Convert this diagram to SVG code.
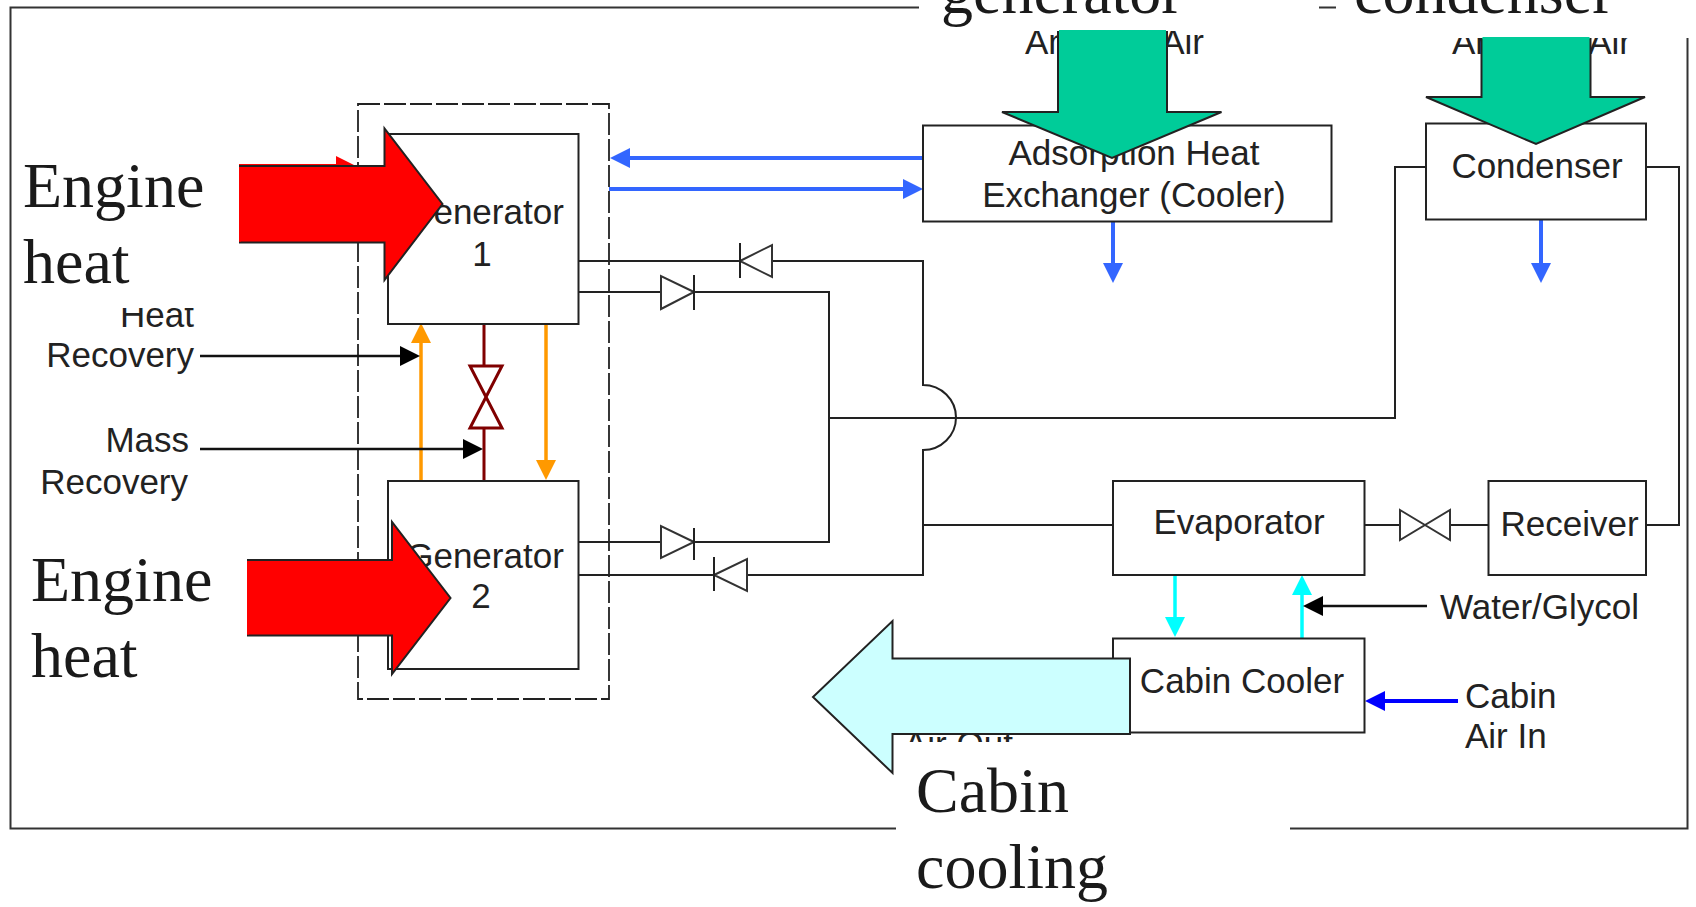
<svg xmlns="http://www.w3.org/2000/svg" width="1696" height="907" viewBox="0 0 1696 907">
<style>
.box{fill:#fff;stroke:#222;stroke-width:2}
.sm{font-family:"Liberation Sans",Arial,sans-serif;font-size:35px;fill:#222}
.big{font-family:"Liberation Serif","Times New Roman",serif;font-size:64px;fill:#1a1a1a}
.ln{fill:none;stroke:#222;stroke-width:2}
.sym{fill:#fff;stroke:#333;stroke-width:2}
.mask{fill:#fff;stroke:none}
.fat{stroke:#222;stroke-width:2;stroke-linejoin:miter}
.b{fill:none;stroke:#3366ff;stroke-width:4;marker-end:url(#mb)}
.o{fill:none;stroke:#ff9900;stroke-width:3.5;marker-end:url(#mo)}
.c{fill:none;stroke:#00ffff;stroke-width:3.5;marker-end:url(#mc)}
.k{fill:none;stroke:#111;stroke-width:2.5;marker-end:url(#mk)}
</style>
<defs>
<marker id="mb" markerUnits="userSpaceOnUse" markerWidth="22" markerHeight="22" refX="10" refY="10" orient="auto"><path d="M0 0L20 10L0 20Z" fill="#3366ff"/></marker>
<marker id="mo" markerUnits="userSpaceOnUse" markerWidth="22" markerHeight="22" refX="10" refY="10" orient="auto"><path d="M0 0L20 10L0 20Z" fill="#ff9900"/></marker>
<marker id="mc" markerUnits="userSpaceOnUse" markerWidth="22" markerHeight="22" refX="10" refY="10" orient="auto"><path d="M0 0L20 10L0 20Z" fill="#00ffff"/></marker>
<marker id="mk" markerUnits="userSpaceOnUse" markerWidth="22" markerHeight="22" refX="10" refY="10" orient="auto"><path d="M0 0L20 10L0 20Z" fill="#000"/></marker>
<marker id="md" markerUnits="userSpaceOnUse" markerWidth="22" markerHeight="22" refX="10" refY="10" orient="auto"><path d="M0 0L20 10L0 20Z" fill="#0000ff"/></marker>
</defs>
<rect width="1696" height="907" fill="#fff"/>
<rect id="frame" x="10.5" y="7.5" width="1677" height="821" fill="none" stroke="#333" stroke-width="2"/>
<rect id="generator-enclosure" x="358" y="104" width="251" height="595" fill="none" stroke="#222" stroke-width="1.8" stroke-dasharray="22 4"/>

<g id="connectors">
<path class="ln" d="M579 261H923V385A33 32.500 0 0 1 923 450V575H579"/>
<path class="ln" d="M579 292H829V542H579"/>
<path class="ln" d="M829 418H1395V167H1429"/>
<path class="ln" d="M1646 167H1679V525H1646"/>
<path class="ln" d="M923 525H1113M1365 525H1489"/>
<path d="M484 324V366M484 428V481" fill="none" stroke="#800000" stroke-width="3"/>
<path class="o" d="M421 481V333"/>
<path class="o" d="M546 324V470"/>
<path class="k" d="M200 356H410"/>
<path class="k" d="M200 449H473"/>
<path class="b" d="M923 158H620"/>
<path class="b" d="M609 189H913"/>
<path class="b" d="M1113 222V273"/>
<path class="b" d="M1541 220V273"/>
<path class="c" d="M1175 575V627"/>
<path class="c" d="M1302 640V585"/>
<path class="k" d="M1427 606H1313"/>
<path d="M1458 701H1375" fill="none" stroke="#0000ff" stroke-width="4" marker-end="url(#md)"/>
</g>

<g id="check-valves">
<path class="sym" d="M740 261L772 245V277Z"/><path class="ln" d="M740 243V278"/>
<path class="sym" d="M694 292L661 276V309Z"/><path class="ln" d="M694 275V310"/>
<path class="sym" d="M694 542L661 526V558Z"/><path class="ln" d="M694 528V560"/>
<path class="sym" d="M714 575L747 559V591Z"/><path class="ln" d="M714 557V591"/>
</g>
<g id="expansion-valve"><path class="sym" d="M1400 510L1450 540V510L1400 540Z"/></g>
<g id="mass-valve"><path d="M470 366H502L470 428H502Z" fill="#fff" stroke="#800000" stroke-width="3"/></g>

<g id="generator-1"><rect class="box" x="388" y="134" width="190.500" height="190"/><text class="sm" x="485" y="224" text-anchor="middle">Generator</text><text class="sm" x="482" y="266" text-anchor="middle">1</text></g>
<g id="generator-2"><rect class="box" x="388" y="481" width="190.500" height="188"/><text class="sm" x="485" y="568" text-anchor="middle">Generator</text><text class="sm" x="481" y="608" text-anchor="middle">2</text></g>
<g id="adsorption-heat-exchanger"><rect class="box" x="923" y="125.500" width="408.500" height="96"/><text class="sm" x="1134" y="165" text-anchor="middle">Adsorption Heat</text><text class="sm" x="1134" y="207" text-anchor="middle">Exchanger (Cooler)</text></g>
<g id="condenser"><rect class="box" x="1426" y="123.500" width="220" height="96"/><text class="sm" x="1537" y="178" text-anchor="middle">Condenser</text></g>
<g id="evaporator"><rect class="box" x="1113" y="481" width="251.500" height="94"/><text class="sm" x="1239" y="534" text-anchor="middle">Evaporator</text></g>
<g id="receiver"><rect class="box" x="1488.500" y="481" width="157.500" height="94"/><text class="sm" x="1569.500" y="536" text-anchor="middle">Receiver</text></g>
<g id="cabin-cooler"><rect class="box" x="1113" y="638.500" width="251.500" height="94"/><text class="sm" x="1242" y="693" text-anchor="middle">Cabin Cooler</text></g>

<g id="labels">
<text class="sm" x="194" y="327" text-anchor="end">Heat</text>
<text class="sm" x="194" y="367" text-anchor="end">Recovery</text>
<text class="sm" x="189" y="452" text-anchor="end">Mass</text>
<text class="sm" x="188" y="494" text-anchor="end">Recovery</text>
<text class="sm" x="1025" y="54">Ambient Air</text>
<text class="sm" x="1452" y="54">Ambient Air</text>
<text class="sm" x="1440" y="619">Water/Glycol</text>
<text class="sm" x="1465" y="708">Cabin</text>
<text class="sm" x="1465" y="748">Air In</text>
<text class="sm" x="904" y="756">Air Out</text>
</g>

<g id="engine-heat-1">
<path d="M230 164H336V156L356 166L340 172H230Z" fill="#ff0000"/>
<rect class="mask" x="12" y="120" width="227" height="188"/>
<path class="fat" fill="#ff0000" d="M239 166H384.500V128.500L442.500 204L384.500 280V242.500H239"/>
<path d="M240 167V241.500" stroke="#ff0000" stroke-width="2" fill="none"/>
<text class="big" x="23" y="207">Engine</text>
<text class="big" x="23" y="283">heat</text>
</g>
<g id="engine-heat-2">
<rect class="mask" x="12" y="530" width="235" height="160"/>
<path class="fat" fill="#ff0000" d="M247 560H392V522L450.500 598L392 674V635.500H247"/>
<path d="M248 561V634.500" stroke="#ff0000" stroke-width="2" fill="none"/>
<text class="big" x="31" y="601">Engine</text>
<text class="big" x="31" y="677">heat</text>
</g>
<g id="generator-cooling">
<rect class="mask" x="919" y="0" width="400" height="31"/>
<text class="big" x="941" y="13">generator</text>
<path class="fat" fill="#00cc99" d="M1058 31V112H1002L1112 158L1221.500 112H1167V31"/>
<path d="M1059 30H1166V32H1059Z" fill="#00cc99"/>
</g>
<g id="condenser-cooling">
<rect class="mask" x="1336" y="0" width="360" height="38"/>
<text class="big" x="1354" y="13">condenser</text>
<path class="fat" fill="#00cc99" d="M1481.500 38V97H1426L1536 144L1645 97H1590.500V38"/>
<path d="M1482.500 37H1589.500V39H1482.500Z" fill="#00cc99"/>
</g>
<g id="cabin-cooling">
<rect class="mask" x="896" y="742" width="394" height="165"/>
<path fill="#ccffff" stroke="#222" stroke-width="2" d="M1130 658.500H892.500V621L813 697L892.500 773V734H1130Z"/>
<text class="big" x="916" y="812">Cabin</text>
<text class="big" x="916" y="888">cooling</text>
</g>
</svg>
